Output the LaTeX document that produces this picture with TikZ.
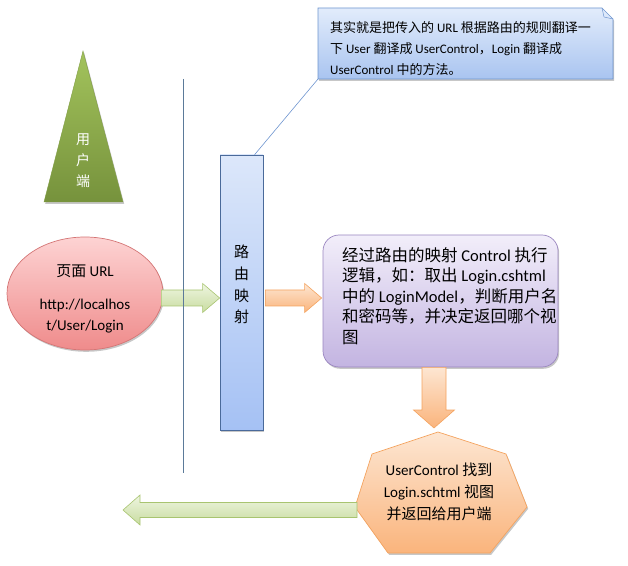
\documentclass[tikz,border=0pt]{standalone}
\usepackage{fontspec}
\setmainfont{Carlito}
\newfontfamily\zh{Noto Sans CJK SC}
\usetikzlibrary{calc,shadows,shapes.geometric}
\definecolor{rtop}{HTML}{DCE7FA}
\definecolor{rbot}{HTML}{A5C1F4}
\definecolor{rbrd}{HTML}{4A6A9A}
\definecolor{ctop}{HTML}{E2ECFB}
\definecolor{cbot}{HTML}{A9C4F0}
\definecolor{cbrd}{HTML}{6E95CF}
\definecolor{ptop}{HTML}{F2EEFA}
\definecolor{pbot}{HTML}{C3B4E1}
\definecolor{pbrd}{HTML}{9A86C0}
\definecolor{etop}{HTML}{FDD3D3}
\definecolor{ebot}{HTML}{EF8B8B}
\definecolor{ebrd}{HTML}{D47575}
\definecolor{otop}{HTML}{FDE6D2}
\definecolor{obot}{HTML}{FAB47C}
\definecolor{obrd}{HTML}{F4A35F}
\definecolor{gtop}{HTML}{EEF5E0}
\definecolor{gbot}{HTML}{C8DCA0}
\definecolor{gbrd}{HTML}{A8C470}
\definecolor{ttop}{HTML}{A3C35C}
\definecolor{tbot}{HTML}{76923C}
\definecolor{vline}{HTML}{5B7A99}
\newcommand\blockarrow[6]{%
  \coordinate (ah) at ($(#3)!#6!(#2)$);
  \path[#1] ($(#2)!#4!90:(#3)$) -- ($(ah)!#4!90:(#3)$) -- ($(ah)!#5!90:(#3)$)
    -- (#3) -- ($(ah)!#5!-90:(#3)$) -- ($(ah)!#4!-90:(#3)$) -- ($(#2)!#4!-90:(#3)$) -- cycle;}
\tikzset{
  shad/.style={drop shadow={shadow xshift=1.2pt, shadow yshift=-1.8pt, opacity=.22, fill=black}},
  routebox/.style={draw=rbrd, line width=.7pt, top color=rtop, bottom color=rbot, minimum width=43pt, minimum height=275pt, inner sep=0pt, shad},
  callfill/.style={draw=cbrd, line width=.6pt, top color=ctop, bottom color=cbot, shad},
  purplebox/.style={draw=pbrd, line width=.7pt, top color=ptop, bottom color=pbot, rounded corners=16pt, minimum width=235pt, minimum height=132pt, inner sep=0pt, shad},
  ellbox/.style={ellipse, draw=ebrd, line width=.7pt, top color=etop, bottom color=ebot, minimum width=156pt, minimum height=113pt, inner sep=0pt},
  heptfill/.style={draw=obrd, line width=.7pt, top color=otop, bottom color=obot, shad},
  greenarrow/.style={draw=gbrd, line width=.6pt, top color=gtop, bottom color=gbot},
  orangearrow/.style={draw=obrd, line width=.6pt, top color=otop, bottom color=obot},
  trifill/.style={top color=ttop, bottom color=tbot, draw=tbot!80!ttop, line width=.4pt, shad},
  txt/.style={inner sep=0pt, text=black},
}
\begin{document}
\begin{tikzpicture}[x=1pt,y=1pt]
\useasboundingbox (0,0) rectangle (628,565);
% user triangle
\path[trifill] (83,514) coordinate (triapex) -- (123,363) -- (44,363) -- cycle;
\node[txt, text=white, align=center, font=\zh\fontsize{14}{21}\selectfont] (tritext) at (83,404) {用\\户\\端};
% routing box
\node[routebox] (route) at (241.5,272.5) {};
\node[txt, align=center, font=\zh\fontsize{15}{21.7}\selectfont] (routetext) at (241.5,280.5) {路\\由\\映\\射};
% callout
\path[callfill] (318,486) coordinate (callbl) -- (318,557) -- (602,557) -- (613,546) -- (613,486) -- cycle;
\draw[cbrd, line width=.5pt] (602,557) -- (604,548) -- (613,546);
\draw[cbrd, line width=.6pt] (callbl) -- ($(route.north)!0.6!(route.north east)$);
\node[txt, anchor=west, align=left, font=\fontsize{13}{21}\selectfont] (calltext) at (330,516)
 {{\zh 其实就是把传入的} URL {\zh 根据路由的规则翻译一}\\
  {\zh 下} User {\zh 翻译成} UserControl{\zh ，}Login {\zh 翻译成}\\
  UserControl {\zh 中的方法。}};
% page url ellipse
\node[ellbox, shad] (ell) at (85,271.5) {};
\node[txt, align=center, font=\fontsize{15}{21}\selectfont] (elltext) at (85,266)
 {{\zh 页面} URL\\[12pt] http://localhos\\ t/User/Login};
% purple box
\node[purplebox] (logic) at (440.5,264) {};
\node[txt, anchor=west, align=left, font=\fontsize{16.5}{20.5}\selectfont] (logictext) at (342,269)
 {{\zh 经过路由的映射} Control {\zh 执行}\\
  {\zh 逻辑，如：取出} Login.cshtml\\
  {\zh 中的} LoginModel{\zh ，判断用户名}\\
  {\zh 和密码等，并决定返回哪个视}\\
  {\zh 图}};
% heptagon
\path[heptfill] (438,133) coordinate (hepttop) -- (506,111) -- (527,58) -- (490,12)
  -- (388,12) -- (355,58) coordinate (heptleft) -- (372,111) -- cycle;
\node[txt, align=center, font=\fontsize{15}{22}\selectfont] (hepttext) at (439,73)
 {UserControl {\zh 找到}\\ Login.schtml {\zh 视图}\\ {\zh 并返回给用户端}};
% arrows
\coordinate (arrowy) at (0,267);
\coordinate (ga) at ($(ell.east |- arrowy)+(-2,0)$);
\coordinate (gb) at (route.west |- arrowy);
\blockarrow{greenarrow}{ga}{gb}{8pt}{14.5pt}{17pt}
\coordinate (oa) at ($(route.east |- arrowy)+(2,0)$);
\coordinate (ob) at ($(logic.west |- arrowy)+(-1,0)$);
\blockarrow{orangearrow}{oa}{ob}{8pt}{14.5pt}{17pt}
\coordinate (downx) at (434,0);
\coordinate (da) at (logic.south -| downx);
\coordinate (db) at ($(hepttop -| downx)+(0,4)$);
\blockarrow{orangearrow}{da}{db}{12pt}{20.5pt}{18pt}
\coordinate (la) at ($(heptleft)+(2,-3)$);
\coordinate (lb) at (123,55);
\blockarrow{greenarrow}{la}{lb}{7.5pt}{15pt}{17pt}
% vertical separator
\draw[vline, line width=.8pt] (183,486) coordinate (vtop) -- (183,92) coordinate (vbot);
\end{tikzpicture}
\end{document}
